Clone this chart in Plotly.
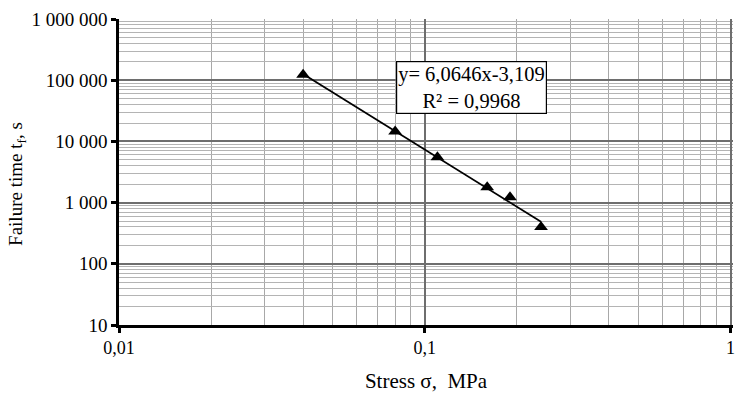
import numpy as np
import plotly.graph_objects as go

stress = [0.04, 0.08, 0.11, 0.16, 0.19, 0.24]
failure_time = [123000, 14500, 5500, 1780, 1220, 400]

x_tickvals = [0.01, 0.1, 1]
x_ticktext = ["0,01", "0,1", "1"]
y_tickvals = [10, 100, 1000, 10000, 100000, 1000000]
y_ticktext = ["10", "100", "1 000", "10 000", "100 000", "1 000 000"]

eq_text = "y= 6,0646x-3,109<br>R² = 0,9968"
y_title = "Failure time t<sub>f</sub>, s"

# power trendline fitted in log-log space
b, a = np.polyfit(np.log10(stress), np.log10(failure_time), 1)
fit_x = np.array([min(stress), max(stress)])
fit_y = 10 ** (a + b * np.log10(fit_x))

minor_x = [m * 10.0 ** e for e in (-2, -1) for m in range(2, 10)]
minor_y = [m * 10.0 ** e for e in range(1, 6) for m in range(2, 10)]

font = "Liberation Serif, Times New Roman, serif"

fig = go.Figure()
fig.add_trace(go.Scatter(x=fit_x, y=fit_y, mode="lines",
                         line=dict(color="black", width=1.8), showlegend=False))
fig.add_trace(go.Scatter(x=stress, y=failure_time, mode="markers",
                         marker=dict(symbol="triangle-up", size=12, color="black"),
                         showlegend=False))

fig.add_annotation(x=0.574, y=0.776, xref="paper", yref="paper",
                   xanchor="center", yanchor="middle", text=eq_text,
                   showarrow=False, font=dict(family=font, size=20.5, color="black"),
                   bordercolor="black", borderwidth=1.2, borderpad=1,
                   bgcolor="white", align="center")

# y-axis title (placed slightly below the plot centre, as in the reference)
fig.add_annotation(x=-0.165, y=0.46, xref="paper", yref="paper",
                   xanchor="center", yanchor="middle", text=y_title, textangle=-90,
                   showarrow=False, font=dict(family=font, size=19, color="black"))

fig.update_layout(
    width=737, height=395,
    margin=dict(l=119, r=4, t=19, b=70),
    paper_bgcolor="white", plot_bgcolor="white",
    font=dict(family=font, size=18, color="black"),
    xaxis=dict(type="log", range=[-2, 0.008], tickvals=x_tickvals, ticktext=x_ticktext,
               automargin=False, ticklabeloverflow="allow",
               showgrid=True, gridcolor="#6e6e6e", gridwidth=1.5,
               showline=True, linecolor="black", linewidth=2.5,
               ticks="outside", ticklen=5, tickwidth=2.5, tickcolor="black",
               tickfont=dict(family=font, size=18, color="black"),
               minor=dict(tickvals=minor_x, showgrid=True, gridcolor="#a8a8a8",
                          gridwidth=1.2, ticks=""),
               title=dict(text="Stress σ,  MPa", standoff=16,
                          font=dict(family=font, size=21, color="black")),
               zeroline=False),
    yaxis=dict(type="log", range=[1, 6.0005], tickvals=y_tickvals, ticktext=y_ticktext,
               automargin=False, ticklabeloverflow="allow",
               showgrid=True, gridcolor="#6e6e6e", gridwidth=2,
               showline=True, linecolor="black", linewidth=2.5,
               ticks="outside", ticklen=5, tickwidth=2.5, tickcolor="black",
               tickfont=dict(family=font, size=19, color="black"),
               minor=dict(tickvals=minor_y, showgrid=True, gridcolor="#b4b4b4",
                          gridwidth=1.2, ticks=""),
               zeroline=False),
)

fig.write_html("out.html", config={"displayModeBar": False},
               post_script="document.body.style.margin='0';document.body.style.overflow='hidden';")
